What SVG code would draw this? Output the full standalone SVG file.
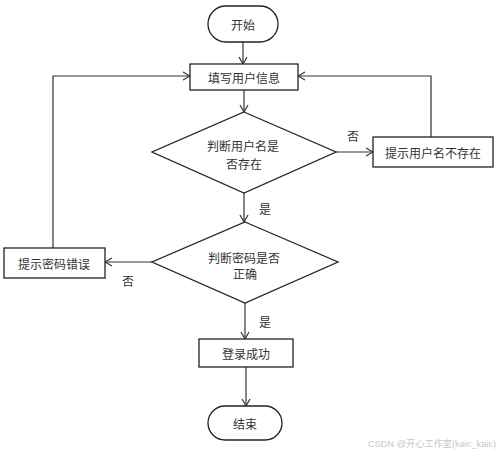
<svg xmlns="http://www.w3.org/2000/svg" width="499" height="453" viewBox="0 0 499 453">
<defs>
<style>
.shape{fill:#fff;stroke:#222;stroke-width:1.3}
.conn{fill:none;stroke:#333;stroke-width:1.2}
.t{font-family:"Noto Sans CJK SC","Noto Sans",sans-serif;font-size:12px;fill:#333;text-anchor:middle;dominant-baseline:central}
.wm{font-family:"Liberation Sans","Noto Sans CJK SC",sans-serif;font-size:9.5px;fill:#c8c8c8}
</style>
<marker id="arr" viewBox="0 0 10 10" refX="9" refY="5" markerWidth="10" markerHeight="10" markerUnits="userSpaceOnUse" orient="auto">
<polyline points="2,1 9,5 2,9" fill="none" stroke="#333" stroke-width="1.2"/>
</marker>
</defs>
<rect width="499" height="453" fill="#fff"/>
<g id="connectors">
<line class="conn" x1="243" y1="42" x2="243" y2="64" marker-end="url(#arr)"/>
<line class="conn" x1="244" y1="90" x2="244" y2="112" marker-end="url(#arr)"/>
<line class="conn" x1="336" y1="152" x2="373" y2="152" marker-end="url(#arr)"/>
<polyline class="conn" points="431,137 431,76 298,76" marker-end="url(#arr)"/>
<line class="conn" x1="244" y1="193" x2="244" y2="222" marker-end="url(#arr)"/>
<line class="conn" x1="152" y1="262" x2="105" y2="262" marker-end="url(#arr)"/>
<polyline class="conn" points="53,248 53,76 190,76" marker-end="url(#arr)"/>
<line class="conn" x1="245" y1="303" x2="245" y2="339" marker-end="url(#arr)"/>
<line class="conn" x1="246" y1="367" x2="246" y2="406" marker-end="url(#arr)"/>
<text class="t" x="353" y="135">否</text>
<text class="t" x="265" y="208">是</text>
<text class="t" x="128" y="280">否</text>
<text class="t" x="265" y="321">是</text>
</g>
<g id="start">
<rect class="shape" x="208" y="6" width="70" height="36" rx="18"/>
<text class="t" x="243" y="24">开始</text>
</g>
<g id="fill-info">
<rect class="shape" x="190" y="64" width="108" height="26"/>
<text class="t" x="244" y="77">填写用户信息</text>
</g>
<g id="check-user">
<polygon class="shape" points="244,112 336,152 244,193 152,152"/>
<text class="t" x="243" y="145">判断用户名是</text>
<text class="t" x="244" y="163">否存在</text>
</g>
<g id="user-missing">
<rect class="shape" x="373" y="137" width="120" height="30"/>
<text class="t" x="433" y="152">提示用户名不存在</text>
</g>
<g id="check-pwd">
<polygon class="shape" points="245,222 338,262 245,303 152,262"/>
<text class="t" x="244" y="257">判断密码是否</text>
<text class="t" x="245" y="273">正确</text>
</g>
<g id="pwd-error">
<rect class="shape" x="4" y="248" width="101" height="30"/>
<text class="t" x="54" y="263">提示密码错误</text>
</g>
<g id="login-ok">
<rect class="shape" x="199" y="339" width="94" height="28"/>
<text class="t" x="246" y="353">登录成功</text>
</g>
<g id="end">
<rect class="shape" x="208" y="406" width="74" height="34" rx="17"/>
<text class="t" x="245" y="423">结束</text>
</g>
<text class="wm" x="368" y="447" textLength="128" lengthAdjust="spacingAndGlyphs">CSDN @开心工作室(kaic_kaic)</text>
</svg>
